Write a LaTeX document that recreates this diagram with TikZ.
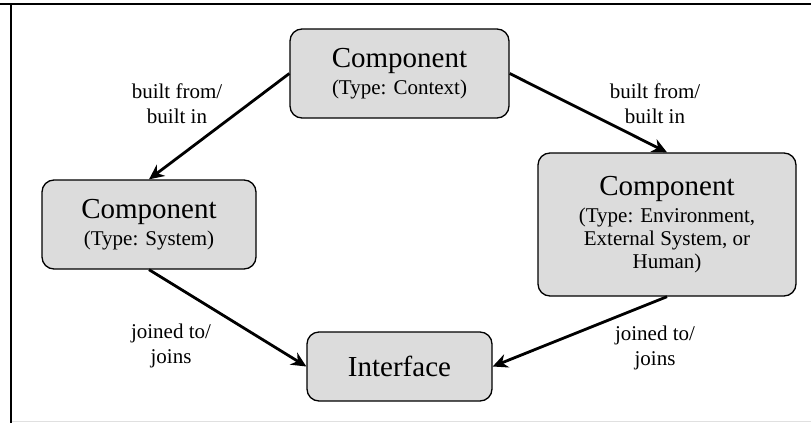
\documentclass[tikz,border=0pt]{standalone}
\usepackage{fontspec}
\setmainfont{Liberation Serif}
\usetikzlibrary{arrows.meta}
\definecolor{boxgray}{HTML}{DCDCDC}
\begin{document}
\begin{tikzpicture}[x=1pt,y=-1pt,
  box/.style={draw=black, line width=1.3pt, rounded corners=12pt, fill=boxgray,
    align=center, inner sep=0pt, font=\fontsize{21}{23}\selectfont},
  big/.style={font=\fontsize{29}{31}\selectfont},
  conn/.style={line width=2.8pt, -{Stealth[length=15pt,width=14pt]}},
  lbl/.style={align=center, inner sep=0pt, font=\fontsize{21}{25}\selectfont}]
  \useasboundingbox (0,0) rectangle (811,423);
  % frame
  \draw[line width=1.5pt] (0,4) -- (811,4);
  \draw[line width=1.5pt] (11,4) -- (11,423);
  \draw[black!12, line width=1pt] (12,421.5) -- (811,421.5);
  % nodes
  \node[box, minimum width=219pt, minimum height=89pt] (ctx) at (399.5,73.5)
    {{\fontsize{29}{31}\selectfont Component}\\[4pt](Type: Context)};
  \node[box, minimum width=214pt, minimum height=89pt] (sys) at (149,224.5)
    {{\fontsize{29}{31}\selectfont Component}\\[4pt](Type: System)};
  \node[box, minimum width=258pt, minimum height=143pt] (env) at (667,224.5)
    {{\fontsize{29}{31}\selectfont Component}\\[4pt](Type: Environment,\\External System, or\\Human)};
  \node[box, big, minimum width=185pt, minimum height=69pt] (intf) at (399.5,366.5) {Interface};
  % connectors
  \draw[conn] (ctx.west) -- (sys.north);
  \draw[conn] (ctx.east) -- (env.north);
  \draw[conn] (sys.south) -- (intf.west);
  \draw[conn] (env.south) -- (intf.east);
  % labels
  \node[lbl] (l1) at (177,104) {built from/\\built in};
  \node[lbl] (l2) at (655,104) {built from/\\built in};
  \node[lbl] (l3) at (171,346) {joined to/\\joins};
  \node[lbl] (l4) at (655,348) {joined to/\\joins};
\end{tikzpicture}
\end{document}
